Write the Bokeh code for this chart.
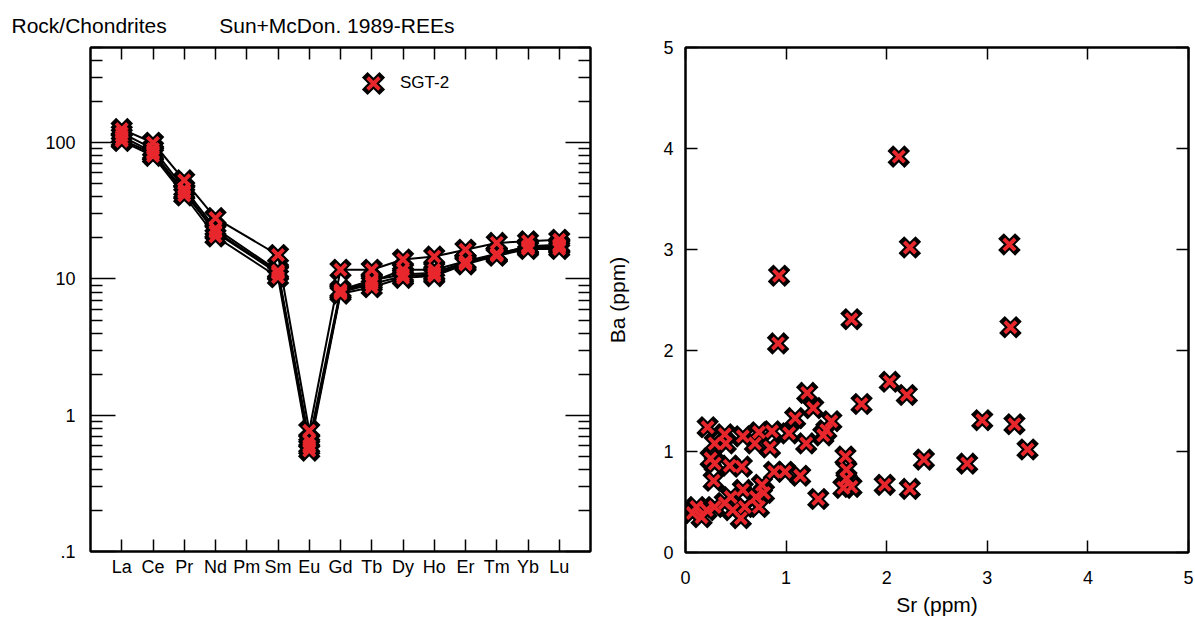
from bokeh.plotting import figure
from bokeh.models import (Range1d, FixedTicker, LinearAxis, LogAxis, Title,
                          Legend, LegendItem, ColumnDataSource)
from bokeh.layouts import row
from bokeh.embed import file_html
from bokeh.resources import INLINE

# ---------------- data ----------------
elements = ["La", "Ce", "Pr", "Nd", "Pm", "Sm", "Eu", "Gd", "Tb", "Dy", "Ho", "Er", "Tm", "Yb", "Lu"]
sample_1 = [126, 100, 53, 28, None, 15.0, 0.77, 11.7, 11.7, 13.9, 14.6, 16.4, 18.4, 18.9, 19.4]
sample_2 = [118, 90, 46, 23.5, None, 11.5, 0.65, 8.3, 9.8, 10.8, 11.1, 13.3, 15.2, 17.4, 17.8]
sample_3 = [106, 83, 43, 22, None, 11.0, 0.60, 8.0, 9.2, 10.5, 10.8, 13.0, 15.0, 17.0, 17.2]
sample_4 = [103, 80, 41, 20.5, None, 10.3, 0.55, 7.8, 8.7, 10.2, 10.5, 12.8, 14.8, 16.6, 16.6]
sample_5 = [112, 85, 44, 22.5, None, 11.2, 0.58, 8.1, 9.5, 11.7, 11.7, 13.5, 15.3, 17.2, 17.5]
samples = [sample_1, sample_2, sample_3, sample_4, sample_5]
legend_label = "SGT-2"
title_left = "Rock/Chondrites"
title_right = "Sun+McDon. 1989-REEs"

y_ticks = [0.1, 1, 10, 100]
y_tick_labels = [".1", "1", "10", "100"]

sr = [2.12, 2.23, 3.22, 3.23, 0.93, 0.92, 1.65, 2.03, 2.20, 1.21, 1.75, 2.95, 3.27, 3.40,
      2.37, 2.80, 1.98, 2.23, 1.32, 1.27, 1.09, 1.45, 1.40, 1.37, 1.03, 1.20, 0.86, 0.84,
      1.59, 1.60, 1.60, 1.65, 1.57, 0.88, 0.99, 1.14, 0.76, 0.78, 0.22, 0.39, 0.57, 0.73,
      0.29, 0.40, 0.69, 0.25, 0.29, 0.44, 0.56, 0.28, 0.57, 0.45, 0.70, 0.73, 0.59, 0.39,
      0.29, 0.11, 0.21, 0.07, 0.16, 0.47, 0.55]
ba = [3.92, 3.02, 3.05, 2.23, 2.74, 2.07, 2.31, 1.69, 1.56, 1.58, 1.47, 1.31, 1.27, 1.02,
      0.92, 0.88, 0.67, 0.63, 0.53, 1.43, 1.33, 1.30, 1.21, 1.16, 1.18, 1.08, 1.20, 1.04,
      0.95, 0.82, 0.73, 0.65, 0.64, 0.80, 0.80, 0.76, 0.67, 0.59, 1.24, 1.17, 1.15, 1.19,
      1.08, 1.08, 1.08, 0.93, 0.88, 0.86, 0.85, 0.71, 0.62, 0.55, 0.55, 0.45, 0.45, 0.49,
      0.45, 0.45, 0.42, 0.39, 0.35, 0.42, 0.34]
xy_ticks = [0, 1, 2, 3, 4, 5]

# ---------------- style ----------------
FONT = "Liberation Sans"
RED = "#e8272d"
TICK_FS = "18px"
LABEL_FS = "21px"
MSIZE = 16


def style_axis(ax, ticks, labels=None, minor=None, major_in=12, standoff=10):
    ax.ticker = FixedTicker(ticks=ticks, minor_ticks=minor or [])
    ax.major_tick_in = major_in
    ax.major_tick_out = 0
    ax.minor_tick_in = 12
    ax.minor_tick_out = 0
    ax.axis_line_color = "black"
    ax.axis_line_width = 2
    ax.major_tick_line_color = "black"
    ax.major_tick_line_width = 1.5
    ax.minor_tick_line_color = "black" if minor else None
    ax.minor_tick_line_width = 1.5
    ax.major_label_text_font = FONT
    ax.major_label_text_font_size = TICK_FS
    ax.major_label_text_color = "black"
    ax.major_label_standoff = standoff
    ax.axis_label_text_font = FONT
    ax.axis_label_text_font_size = LABEL_FS
    ax.axis_label_text_font_style = "normal"
    ax.axis_label_text_color = "black"
    if labels is None:
        ax.major_label_overrides = {t: "" for t in ticks}
    else:
        ax.major_label_overrides = dict(zip(ticks, labels))


def add_markers(p, source, size):
    rb = p.scatter("x", "y", source=source, marker="x", size=size, line_color="black",
                   line_width=8, line_cap="square")
    rr = p.scatter("x", "y", source=source, marker="x", size=size, line_color=RED,
                   line_width=3.8)
    return rb, rr


# ---------------- left panel: REE spider diagram ----------------
heading = title_left + "\u00a0" * 9 + title_right
p1 = figure(width=600, height=621, x_range=Range1d(0, len(elements) + 1),
            y_range=Range1d(0.1, 500), y_axis_type="log",
            x_axis_location=None, y_axis_location=None,
            title=Title(text=heading, align="left", offset=-79, standoff=21,
                        text_font=FONT, text_font_size="21px",
                        text_font_style="normal", text_color="black"),
            min_border_left=90, min_border_right=10, min_border_top=47, min_border_bottom=70,
            output_backend="svg", toolbar_location=None)
p1.frame_width = 500
p1.frame_height = 504
p1.grid.visible = False
p1.outline_line_color = "black"
p1.outline_line_width = 2
p1.background_fill_color = "white"
p1.border_fill_color = "white"

x_pos = list(range(1, len(elements) + 1))
minor_log = [m * 10 ** e for e in (-1, 0, 1, 2) for m in range(2, 10) if m * 10 ** e <= 500]

ax_b = LinearAxis()
style_axis(ax_b, x_pos, elements, standoff=5)
p1.add_layout(ax_b, "below")
ax_t = LinearAxis()
style_axis(ax_t, x_pos)
p1.add_layout(ax_t, "above")
ax_l = LogAxis()
style_axis(ax_l, y_ticks, y_tick_labels, minor=minor_log, major_in=25, standoff=15)
p1.add_layout(ax_l, "left")
ax_r = LogAxis()
style_axis(ax_r, y_ticks, minor=minor_log, major_in=25)
p1.add_layout(ax_r, "right")

mx, my = [], []
for s in samples:
    xs = [x for x, v in zip(x_pos, s) if v is not None]
    ys = [v for v in s if v is not None]
    p1.line(xs, ys, line_color="black", line_width=2)
    mx += xs
    my += ys
src1 = ColumnDataSource(dict(x=mx, y=my))
rb1, rr1 = add_markers(p1, src1, MSIZE)

legend = Legend(items=[LegendItem(label=legend_label, renderers=[rb1, rr1])],
                location=(262, 447), orientation="vertical",
                glyph_width=42, glyph_height=42, label_standoff=6,
                padding=0, margin=0, spacing=0,
                border_line_color=None, background_fill_alpha=0,
                label_text_font=FONT, label_text_font_size="17px",
                label_text_color="black", label_text_baseline="middle")
p1.add_layout(legend, "center")

# ---------------- right panel: Sr vs Ba ----------------
p2 = figure(width=595, height=621, x_range=Range1d(0, 5), y_range=Range1d(0, 5),
            x_axis_location=None, y_axis_location=None,
            min_border_left=85, min_border_right=7, min_border_top=47, min_border_bottom=69,
            output_backend="svg", toolbar_location=None)
p2.frame_width = 503
p2.frame_height = 505
p2.grid.visible = False
p2.outline_line_color = "black"
p2.outline_line_width = 2
p2.background_fill_color = "white"
p2.border_fill_color = "white"

bx = LinearAxis(axis_label="Sr (ppm)")
style_axis(bx, xy_ticks, [str(t) for t in xy_ticks], standoff=18)
bx.axis_label_standoff = 6
p2.add_layout(bx, "below")
tx = LinearAxis()
style_axis(tx, xy_ticks)
p2.add_layout(tx, "above")
ly = LinearAxis(axis_label="Ba (ppm)")
style_axis(ly, xy_ticks, [str(t) for t in xy_ticks], standoff=12)
ly.axis_label_standoff = 31
p2.add_layout(ly, "left")
ry = LinearAxis()
style_axis(ry, xy_ticks)
p2.add_layout(ry, "right")

src2 = ColumnDataSource(dict(x=sr, y=ba))
add_markers(p2, src2, MSIZE)

layout = row(p1, p2, spacing=0)
open("out.html", "w").write(file_html(layout, INLINE))
